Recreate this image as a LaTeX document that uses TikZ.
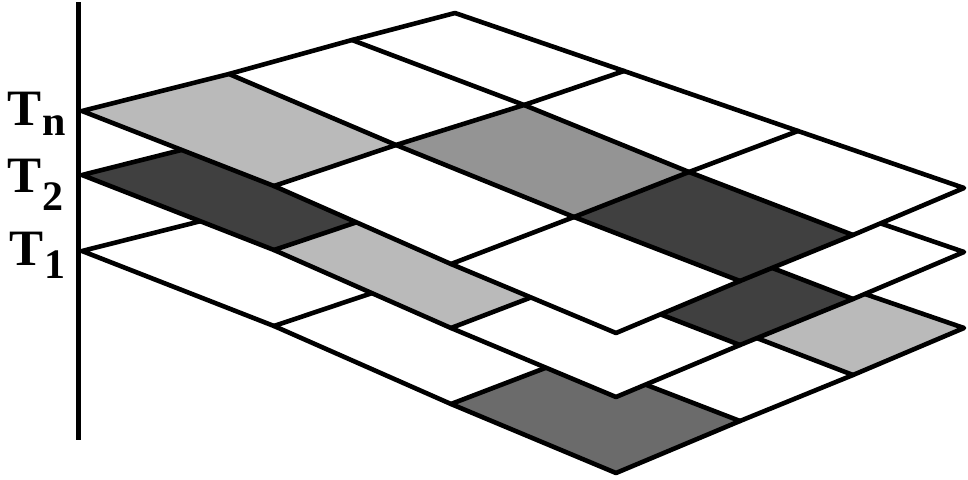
\documentclass[tikz,border=0pt]{standalone}
\usepackage{fontspec}
\setmainfont{Liberation Serif}
\newcommand\mkgrid{%
 \coordinate (g00) at (82,111);
 \coordinate (g10) at (229,74);
 \coordinate (g20) at (352,40);
 \coordinate (g30) at (455,13);
 \coordinate (g01) at (274,186);
 \coordinate (g11) at (396,145);
 \coordinate (g21) at (524,105);
 \coordinate (g31) at (624,71);
 \coordinate (g02) at (451,264);
 \coordinate (g12) at (574,217);
 \coordinate (g22) at (689,172);
 \coordinate (g32) at (798,131);
 \coordinate (g03) at (616,333);
 \coordinate (g13) at (740,281);
 \coordinate (g23) at (853,235);
 \coordinate (g33) at (964,188);
}
\newcommand\gridlayer[1]{%
 \mkgrid
 \fill[white] (g00)--(g10)--(g20)--(g30)--(g31)--(g32)--(g33)--(g23)--(g13)--(g03)--(g02)--(g01)--cycle;
 #1
 \draw[gridline] (g10)--(g11)--(g12)--(g13);
 \draw[gridline] (g20)--(g21)--(g22)--(g23);
 \draw[gridline] (g01)--(g11)--(g21)--(g31);
 \draw[gridline] (g02)--(g12)--(g22)--(g32);
 \draw[gridline] (g00)--(g10)--(g20)--(g30)--(g31)--(g32)--(g33)--(g23)--(g13)--(g03)--(g02)--(g01)--cycle;
}
\begin{document}
\begin{tikzpicture}[x=1pt,y=-1pt,
  gridline/.style={line width=4.6pt,line join=round,line cap=round},
  lightcell/.style={fill=black!27},
  midcell/.style={fill=black!42},
  darkcell/.style={fill=black!75},
  mdarkcell/.style={fill=black!58},
  lbl/.style={font=\fontsize{51}{51}\selectfont\bfseries,inner sep=0pt,anchor=base west},
  sublbl/.style={font=\fontsize{42}{42}\selectfont\bfseries,inner sep=0pt,anchor=base west}]
\useasboundingbox (0,0) rectangle (968,479);
\fill[white] (0,0) rectangle (968,479);
% axis
\coordinate (axtop) at (78.5,2);
\coordinate (axbot) at (78.5,440);
\draw[line width=5pt] (axtop) -- (axbot);
% layer T1
\begin{scope}[shift={(0,140)}]
\gridlayer{%
 \fill[mdarkcell] (g02)--(g12)--(g13)--(g03)--cycle;
 \fill[lightcell] (g22)--(g32)--(g33)--(g23)--cycle;
}
\end{scope}
% layer T2
\begin{scope}[shift={(0,64)}]
\gridlayer{%
 \fill[darkcell] (g00)--(g10)--(g11)--(g01)--cycle;
 \fill[lightcell] (g01)--(g11)--(g12)--(g02)--cycle;
 \fill[darkcell] (g12)--(g22)--(g23)--(g13)--cycle;
}
\end{scope}
% layer Tn
\gridlayer{%
 \fill[lightcell] (g00)--(g10)--(g11)--(g01)--cycle;
 \fill[midcell] (g11)--(g21)--(g22)--(g12)--cycle;
 \fill[darkcell] (g12)--(g22)--(g23)--(g13)--cycle;
}
% labels
\node[lbl] (tn) at (7,125) {T};
\node[sublbl] (tns) at (tn.base east) [xshift=0.5pt,yshift=-10pt] {n};
\node[lbl] (t2) at (7,192) {T};
\node[sublbl] (t2s) at (t2.base east) [xshift=0.5pt,yshift=-18pt] {2};
\node[lbl] (t1) at (9,265) {T};
\node[sublbl] (t1s) at (t1.base east) [xshift=0.5pt,yshift=-13pt] {1};
\end{tikzpicture}
\end{document}
